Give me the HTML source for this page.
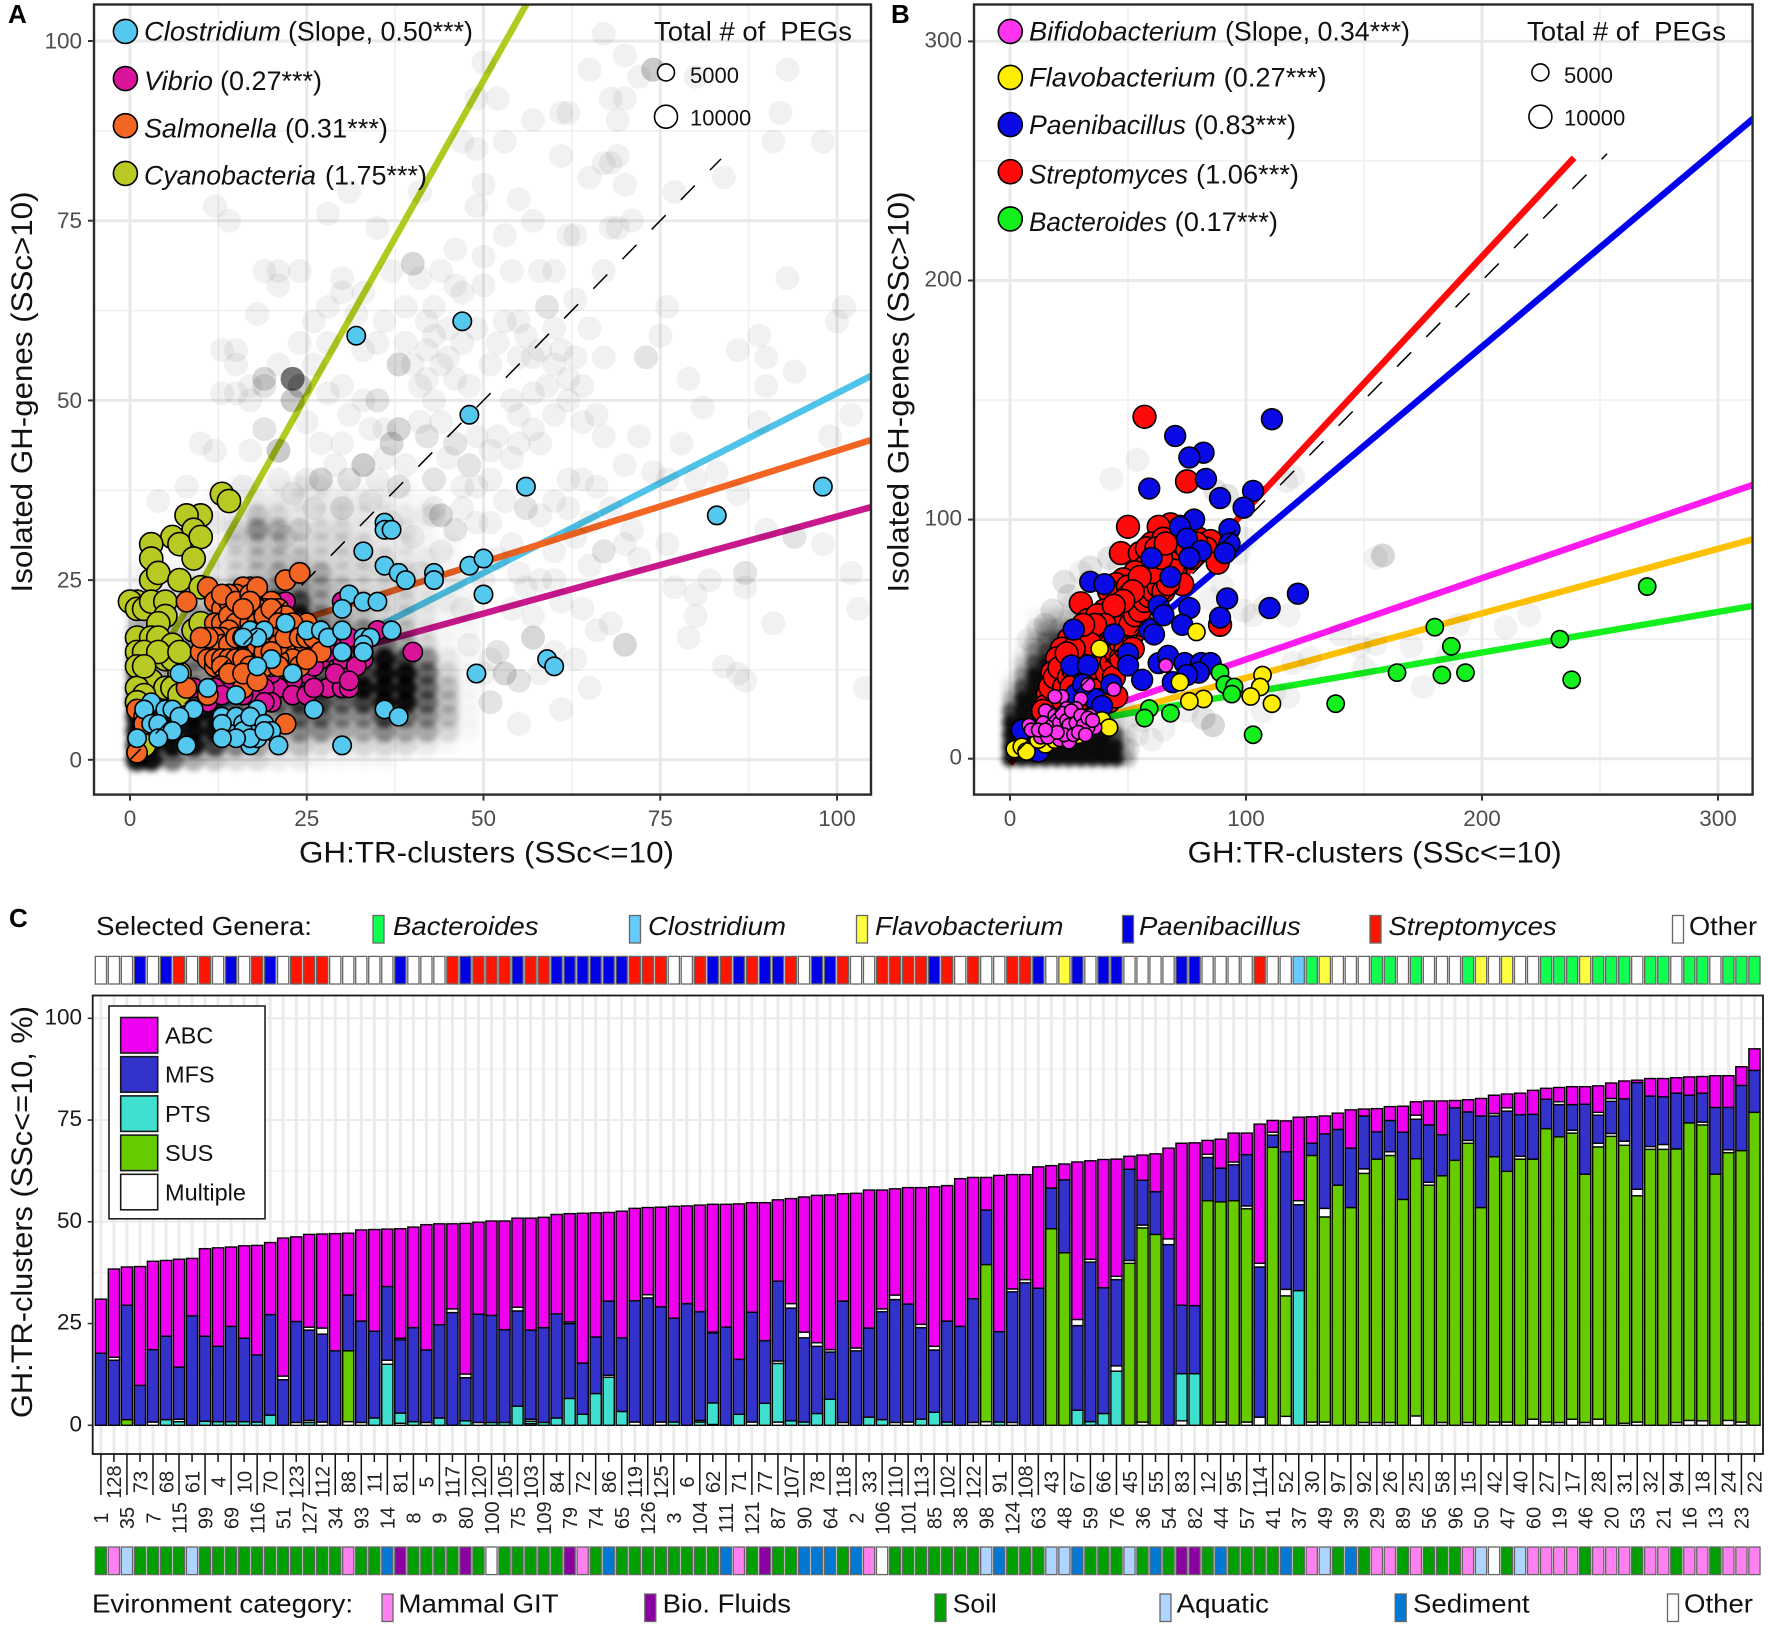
<!DOCTYPE html>
<html lang="en">
<head>
<meta charset="utf-8">
<title>GH transporter clusters figure</title>
<style>
html,body{margin:0;padding:0;background:#fff;}
svg{display:block;position:absolute;left:0;top:0;}
text{font-family:"Liberation Sans",sans-serif;fill:#000;}
.it{font-style:italic;}
.ttl{font-size:30px;fill:#111;}
.leg{font-size:27px;fill:#111;}
.pan{font-size:26px;font-weight:bold;}
.hdr{font-size:26px;fill:#111;}
.sz{font-size:22px;fill:#111;}
</style>
</head>
<body>
<svg id="fig" xmlns="http://www.w3.org/2000/svg" width="1772" height="1630" viewBox="0 0 1772 1630">
  <defs>
    <clipPath id="clipA"><rect x="94" y="4.5" width="777" height="790"/></clipPath>
    <clipPath id="clipB"><rect x="974" y="4.5" width="778.6" height="790"/></clipPath>
    <filter id="soften" x="-5%" y="-5%" width="110%" height="110%"><feGaussianBlur stdDeviation="3"/></filter>
  </defs>
  <g id="panelA"></g>
  <g id="panelB"></g>
  <g id="panelC"></g>

  <text class="pan" x="8" y="23">A</text>
  <text class="pan" x="891" y="23">B</text>
  <text class="pan" x="9" y="927">C</text>

  <text class="ttl" transform="translate(32,392) rotate(-90)" text-anchor="middle" textLength="401" lengthAdjust="spacingAndGlyphs">Isolated GH-genes (SSc&gt;10)</text>
  <text class="ttl" x="299" y="862.5" textLength="375" lengthAdjust="spacingAndGlyphs">GH:TR-clusters (SSc&lt;=10)</text>
  <text class="ttl" transform="translate(908.4,392) rotate(-90)" text-anchor="middle" textLength="401" lengthAdjust="spacingAndGlyphs">Isolated GH-genes (SSc&gt;10)</text>
  <text class="ttl" x="1187.7" y="862.5" textLength="374" lengthAdjust="spacingAndGlyphs">GH:TR-clusters (SSc&lt;=10)</text>
  <text class="ttl" transform="translate(32,1212) rotate(-90)" text-anchor="middle" textLength="412" lengthAdjust="spacingAndGlyphs">GH:TR-clusters (SSc&lt;=10, %)</text>

  <!-- legend A -->
  <g stroke="#000" stroke-width="1.6">
    <circle cx="125.4" cy="31.4" r="12" fill="#55c8ef"/>
    <circle cx="125.4" cy="78.6" r="12" fill="#d9149a"/>
    <circle cx="125.4" cy="125.7" r="12" fill="#f26522"/>
    <circle cx="125.4" cy="173.4" r="12" fill="#b8c924"/>
  </g>
  <text class="leg it" x="144" y="40.5" textLength="137" lengthAdjust="spacingAndGlyphs">Clostridium</text>
  <text class="leg" x="288" y="40.5" textLength="185" lengthAdjust="spacingAndGlyphs">(Slope, 0.50***)</text>
  <text class="leg it" x="144" y="90" textLength="69" lengthAdjust="spacingAndGlyphs">Vibrio</text>
  <text class="leg" x="220" y="90" textLength="102" lengthAdjust="spacingAndGlyphs">(0.27***)</text>
  <text class="leg it" x="144" y="137.5" textLength="133" lengthAdjust="spacingAndGlyphs">Salmonella</text>
  <text class="leg" x="285" y="137.5" textLength="103" lengthAdjust="spacingAndGlyphs">(0.31***)</text>
  <text class="leg it" x="144" y="184.5" textLength="172" lengthAdjust="spacingAndGlyphs">Cyanobacteria</text>
  <text class="leg" x="325" y="184.5" textLength="102" lengthAdjust="spacingAndGlyphs">(1.75***)</text>

  <text class="leg" x="654" y="40.5" textLength="198" lengthAdjust="spacingAndGlyphs" xml:space="preserve">Total # of  PEGs</text>
  <circle cx="666" cy="72.4" r="8.5" fill="#fff" stroke="#000" stroke-width="1.6"/>
  <circle cx="666" cy="116.7" r="11.5" fill="#fff" stroke="#000" stroke-width="1.6"/>
  <text class="sz" x="690" y="83">5000</text>
  <text class="sz" x="690" y="125.7">10000</text>

  <!-- legend B -->
  <g stroke="#000" stroke-width="1.6">
    <circle cx="1010.3" cy="31.4" r="12" fill="#ff33f0"/>
    <circle cx="1010.3" cy="77.4" r="12" fill="#ffee00"/>
    <circle cx="1010.3" cy="124.6" r="12" fill="#0a0ae6"/>
    <circle cx="1010.3" cy="171.7" r="12" fill="#ff0a0a"/>
    <circle cx="1010.3" cy="218.9" r="12" fill="#14f01e"/>
  </g>
  <text class="leg it" x="1029" y="40.5" textLength="188" lengthAdjust="spacingAndGlyphs">Bifidobacterium</text>
  <text class="leg" x="1225" y="40.5" textLength="185" lengthAdjust="spacingAndGlyphs">(Slope, 0.34***)</text>
  <text class="leg it" x="1029" y="86.5" textLength="186.6" lengthAdjust="spacingAndGlyphs">Flavobacterium</text>
  <text class="leg" x="1223.6" y="86.5" textLength="103" lengthAdjust="spacingAndGlyphs">(0.27***)</text>
  <text class="leg it" x="1029" y="134" textLength="157" lengthAdjust="spacingAndGlyphs">Paenibacillus</text>
  <text class="leg" x="1194" y="134" textLength="102" lengthAdjust="spacingAndGlyphs">(0.83***)</text>
  <text class="leg it" x="1029" y="183.5" textLength="159" lengthAdjust="spacingAndGlyphs">Streptomyces</text>
  <text class="leg" x="1196" y="183.5" textLength="103" lengthAdjust="spacingAndGlyphs">(1.06***)</text>
  <text class="leg it" x="1029" y="231" textLength="138" lengthAdjust="spacingAndGlyphs">Bacteroides</text>
  <text class="leg" x="1174.6" y="231" textLength="103.4" lengthAdjust="spacingAndGlyphs">(0.17***)</text>

  <text class="leg" x="1527" y="40.5" textLength="199" lengthAdjust="spacingAndGlyphs" xml:space="preserve">Total # of  PEGs</text>
  <circle cx="1540.4" cy="72.4" r="8.5" fill="#fff" stroke="#000" stroke-width="1.6"/>
  <circle cx="1540.4" cy="116.7" r="11.5" fill="#fff" stroke="#000" stroke-width="1.6"/>
  <text class="sz" x="1564" y="83">5000</text>
  <text class="sz" x="1564" y="125.7">10000</text>

  <!-- panel C header legend -->
  <text class="hdr" x="96" y="935" textLength="216" lengthAdjust="spacingAndGlyphs">Selected Genera:</text>
  <g stroke="#666" stroke-width="1.3">
    <rect x="373" y="915.5" width="11" height="27.5" fill="#10ff50"/>
    <rect x="629.5" y="915.5" width="11" height="27.5" fill="#66ccff"/>
    <rect x="856.5" y="915.5" width="11" height="27.5" fill="#ffff40"/>
    <rect x="1122.5" y="915.5" width="11" height="27.5" fill="#0000e6"/>
    <rect x="1370" y="915.5" width="11" height="27.5" fill="#ff1400"/>
    <rect x="1672.5" y="915.5" width="11" height="27.5" fill="#fff"/>
  </g>
  <text class="hdr it" x="393" y="935" textLength="145.5" lengthAdjust="spacingAndGlyphs">Bacteroides</text>
  <text class="hdr it" x="648" y="935" textLength="138" lengthAdjust="spacingAndGlyphs">Clostridium</text>
  <text class="hdr it" x="875" y="935" textLength="188.4" lengthAdjust="spacingAndGlyphs">Flavobacterium</text>
  <text class="hdr it" x="1139" y="935" textLength="161.8" lengthAdjust="spacingAndGlyphs">Paenibacillus</text>
  <text class="hdr it" x="1388.4" y="935" textLength="168.3" lengthAdjust="spacingAndGlyphs">Streptomyces</text>
  <text class="hdr" x="1689" y="935" textLength="68" lengthAdjust="spacingAndGlyphs">Other</text>

  <!-- panel C footer legend -->
  <text class="hdr" x="92" y="1612.4" textLength="261" lengthAdjust="spacingAndGlyphs">Evironment category:</text>
  <g stroke="#666" stroke-width="1.3">
    <rect x="382" y="1594" width="11" height="27.5" fill="#ff80f0"/>
    <rect x="644.8" y="1594" width="11" height="27.5" fill="#8a00a0"/>
    <rect x="935" y="1594" width="11" height="27.5" fill="#00a000"/>
    <rect x="1160" y="1594" width="11" height="27.5" fill="#aed4ff"/>
    <rect x="1395.2" y="1594" width="11" height="27.5" fill="#0078d4"/>
    <rect x="1667.5" y="1594" width="11" height="27.5" fill="#fff"/>
  </g>
  <text class="hdr" x="398.4" y="1612.4" textLength="160.3" lengthAdjust="spacingAndGlyphs">Mammal GIT</text>
  <text class="hdr" x="662.7" y="1612.4" textLength="128.3" lengthAdjust="spacingAndGlyphs">Bio. Fluids</text>
  <text class="hdr" x="952.8" y="1612.4" textLength="44" lengthAdjust="spacingAndGlyphs">Soil</text>
  <text class="hdr" x="1176.7" y="1612.4" textLength="92.3" lengthAdjust="spacingAndGlyphs">Aquatic</text>
  <text class="hdr" x="1413" y="1612.4" textLength="116.6" lengthAdjust="spacingAndGlyphs">Sediment</text>
  <text class="hdr" x="1684" y="1612.4" textLength="69" lengthAdjust="spacingAndGlyphs">Other</text>
</svg>

<script>
/* ---------- Panel A data ---------- */
const ticksA = [0, 25, 50, 75, 100];
const minorA = [12.5, 37.5, 62.5, 87.5];
const slopesA = {clostridium: 0.50, vibrio: 0.27, salmonella: 0.31, cyanobacteria: 1.75};
const interceptsA = {clostridium: 1.0, vibrio: 6.85, salmonella: 12, cyanobacteria: 7};
const clostridiumPts = [[32,59],[47,61],[48,48],[56,38],[98,38],[83,34],[36,33],[36,32],[37,32],[33,29],[36,27],[38,26],[39,25],[43,26],[43,25],[48,27],[50,28],[50,23],[31,23],[30,21],[33,22],[35,22],[22,19],[25,18],[27,18],[28,17],[30,18],[30,15],[33,17],[34,17],[33,16],[33,15],[37,18],[59,14],[60,13],[49,12],[7,12],[23,12],[20,14],[18,13],[17,18],[19,18],[18,17],[16,17],[11,10],[15,9],[26,7],[36,7],[38,6],[30,2],[9,7],[3,8],[2,7],[5,7],[6,7],[7,6],[3,5],[4,5],[6,4],[4,3],[8,2],[1,3],[13,6],[14,5],[15,6],[13,5],[16,5],[17,4],[16,4],[18,6],[18,7],[17,6],[19,5],[20,4],[21,2],[17,2],[18,3],[17,3],[15,3],[13,3],[19,4]];
const vibrioPts = [[40,15],[35,18],[33,14],[33,15],[33,16],[30,13],[30,14],[30,15],[30,16],[29,17],[31,17],[30,22],[22,22],[28,10],[30,10],[31,10],[27,14],[25,12],[23,11],[21,10],[20,12],[19,10],[18,11],[17,12],[16,13],[15,11],[14,10],[13,12],[12,10],[11,8],[9,10],[8,10],[20,8],[23,9],[25,9],[26,10],[24,13],[22,14],[20,15],[28,15],[27,17],[29,12],[32,13],[18,14],[17,9],[19,8],[24,15],[26,13],[31,11],[13,9],[16,9]];
const salmonellaPts = [[22,25],[24,26],[11,24],[8,22],[17,24],[16,24],[15,23],[14,23],[12,22],[13,21],[14,22],[16,22],[18,23],[19,22],[20,22],[21,21],[20,20],[19,21],[18,21],[17,21],[15,21],[12,19],[13,19],[14,20],[16,20],[15,19],[17,19],[18,19],[19,19],[22,20],[24,19],[25,19],[14,18],[13,17],[12,17],[11,16],[10,15],[23,17],[25,16],[26,16],[24,15],[22,15],[23,14],[21,14],[20,13],[18,14],[17,15],[16,15],[15,15],[14,15],[13,15],[12,15],[11,14],[12,13],[14,13],[15,13],[16,13],[18,12],[19,13],[17,12],[15,12],[16,10],[8,10],[11,9],[22,5],[1,7],[2,6],[2,5],[1,1],[13,23],[15,22],[17,23],[18,24],[19,20],[20,21],[21,19],[22,18],[23,19],[13,16],[14,16],[15,17],[16,17],[17,17],[18,16],[19,16],[20,17],[21,16],[22,17],[12,14],[13,14],[14,14],[15,14],[16,14],[17,13],[13,13],[14,12],[19,15],[20,15],[21,13],[24,17],[25,17],[26,17],[27,15],[24,13],[25,14],[16,12],[18,11],[11,17],[10,17],[17,22],[16,21]];
const cyanobacteriaPts = [[13,37],[14,36],[10,34],[8,34],[9,32],[6,31],[7,30],[3,30],[10,31],[9,28],[3,28],[3,25],[4,26],[7,25],[10,24],[1,22],[0,22],[1,21],[2,21],[3,22],[5,22],[5,20],[4,19],[9,18],[10,19],[1,17],[3,17],[4,17],[6,16],[1,15],[2,15],[5,14],[1,13],[3,11],[7,12],[6,14],[1,10],[5,10],[6,10],[7,9],[2,9],[1,8],[2,5],[2,2],[4,15],[7,15],[2,13]];
const greyPtsA = [[67,101],[70,98],[74,96,4],[72,95],[65,96],[80,95],[93,96],[50,97],[68,92],[70,92],[52,92],[49,92],[61,90],[62,90],[69,89],[92,90],[98,86],[91,86],[57,89],[53,86],[47,86],[49,85],[61,84],[67,83],[68,83],[69,84],[70,80],[65,81],[84,81],[50,80],[55,78],[49,77],[41,79],[31,79],[28,76],[12,77],[14,75],[35,74],[68,74],[57,75],[71,75],[77,79],[69,74],[53,73],[63,73],[62,73],[40,69,3],[50,70],[46,71],[44,68],[41,67],[46,66],[47,65],[50,66],[54,68],[58,68],[60,68],[19,68],[21,68],[21,66],[24,68],[30,67],[30,65],[39,63],[93,67],[76,63],[59,63,2],[63,64],[67,68],[18,62],[42,61],[43,59],[53,61],[56,59],[65,60],[75,59],[101,63],[100,61],[89,59],[90,56],[26,61],[28,58],[33,57],[35,58],[45,56],[38,55,3],[40,55],[73,56,2],[63,56],[67,56],[57,56],[60,55],[86,57],[94,54],[90,52],[79,53],[81,49],[55,56],[51,55],[13,57],[15,57],[15,55],[19,53,3],[21,55],[23,53,14],[24,52,4],[23,50,4],[19,52,2],[17,52],[13,51],[15,51],[17,50],[42,53],[35,50,2],[30,52],[28,51],[33,50],[43,50],[41,52],[62,53],[66,48],[102,48],[99,45],[72,45],[64,47],[60,48],[57,46],[55,48],[70,41],[74,40],[78,44],[67,45],[89,47],[76,39],[80,39],[83,40],[86,37],[77,24],[76,30],[80,23],[80,20],[82,25],[87,26,2],[87,24],[91,19],[102,26],[103,21],[98,30],[94,31,2],[90,32],[70,16,3],[68,19],[67,29,2],[65,27],[71,32],[62,35],[60,36],[58,34],[56,35,2],[66,38],[64,39],[62,39],[84,13],[86,12],[87,11],[104,10],[79,17],[65,10],[61,7],[55,5],[50,12],[53,12,3],[55,11,2],[52,15,2],[51,14],[51,8,2],[57,17,3],[56,24],[58,25],[60,25],[50,25],[46,25],[44,34,3],[43,35],[46,44,2],[48,41,2],[42,45,2],[38,46,3],[36,46],[33,41,4],[31,39,2],[30,44],[27,39,3],[25,39],[21,43,4],[19,46,2],[17,43],[10,44],[8,38],[4,36],[12,43],[43,39,2],[47,38],[51,39],[54,42],[58,44],[40,31],[43,34],[46,32,2],[51,33],[37,44,3],[38,38,2],[34,36],[30,35,2],[24,32],[22,31],[25,47],[27,44],[31,48],[34,46],[36,42],[39,41],[41,47],[44,47],[45,42],[49,45],[52,45],[54,50],[57,51],[59,52],[48,52],[46,53],[44,55],[42,57],[47,58],[49,60],[52,58],[55,61],[58,57],[60,60],[61,57],[64,52],[62,50],[55,44],[51,43],[49,38],[53,36],[47,35],[49,33],[52,28],[54,30],[55,26],[60,29],[63,31],[65,33],[68,35],[70,30],[72,28],[61,22],[64,21],[66,18],[57,20],[54,21],[60,15],[63,14],[58,12],[48,16],[47,21],[44,29],[41,26],[37,33],[35,39],[29,41],[26,35],[23,37],[21,39],[16,38],[12,33],[15,31],[26,55],[24,58],[28,63],[32,62],[36,61],[39,58],[33,65],[37,68],[43,63],[45,60]];
const densityColsA = [1,3,6,9,12,15,18,21,24,27,30,33,36,39,42,45,48];
const densityRowsA = [0,2,4,6,8,10,12,14,16,18,20,22,24,26,28,30,32,34,36,38];
const densityA = [
 [9,9,7,5,4,3,3,2,2,1,1,1,1,0,0,0,0],
 [9,9,9,9,8,6,5,4,4,3,3,3,3,3,2,1,0],
 [9,9,9,9,9,7,6,5,6,6,5,5,6,5,5,3,1],
 [9,9,8,9,9,7,6,6,7,7,6,6,8,7,6,4,1],
 [9,8,7,8,8,7,7,7,8,8,7,8,9,9,7,4,1],
 [8,6,6,7,7,7,7,7,8,8,8,9,9,9,7,4,1],
 [7,5,5,6,6,6,7,7,7,7,7,8,9,9,7,3,1],
 [6,5,5,6,6,6,7,7,8,7,7,8,9,8,6,2,1],
 [5,4,5,6,6,6,7,7,8,7,7,7,7,5,3,1,0],
 [4,3,4,6,6,6,7,8,8,7,6,6,5,4,2,1,1],
 [3,2,3,5,6,6,7,9,9,6,5,4,3,3,2,1,1],
 [2,2,3,4,5,5,6,9,8,5,4,4,3,3,2,2,1],
 [1,1,2,3,3,4,5,6,6,5,4,3,3,3,2,1,1],
 [1,1,1,2,2,3,4,5,5,5,3,3,3,3,2,1,0],
 [0,0,1,1,2,3,4,4,4,3,3,3,3,2,2,1,0],
 [0,0,0,1,1,3,4,4,3,3,3,3,2,2,1,1,0],
 [0,0,0,1,1,3,6,5,3,3,3,2,2,2,1,0,0],
 [0,0,0,0,1,2,4,3,2,2,2,2,2,2,2,0,0],
 [0,0,0,0,1,1,2,2,2,2,2,2,2,1,1,0,0],
 [0,0,0,0,0,1,1,1,2,2,1,1,1,1,0,0,0]
];

/* ---------- Panel B data ---------- */
const ticksB = [0, 100, 200, 300];
const minorB = [50, 150, 250];
const slopesB = {bifidobacterium: 0.34, flavobacterium: 0.27, paenibacillus: 0.83, streptomyces: 1.06, bacteroides: 0.17};
const interceptsB = {bifidobacterium: 7.5, flavobacterium: 6.8, paenibacillus: 6.3, streptomyces: -2, bacteroides: 10.4};
const streptomycesPts = [[57,143],[75,116],[50,97],[47,86],[70,96],[72,97],[68,98],[63,97],[60,90],[55,86],[58,88],[65,92],[70,90],[75,95],[80,92],[85,91],[83,88],[88,82],[78,86],[72,84],[67,85],[62,82],[57,80],[53,78],[48,75],[45,73],[42,70],[50,72],[55,70],[60,72],[65,75],[70,78],[73,73],[50,68],[58,65],[46,62],[40,62],[30,65],[33,58],[37,60],[42,56],[47,55],[52,52],[56,56],[30,52],[25,50],[28,48],[35,52],[38,48],[42,47],[22,46],[20,42],[26,42],[32,44],[36,42],[24,38],[18,36],[22,33],[28,32],[33,36],[38,35],[40,30],[20,28],[16,27],[18,24],[24,26],[30,25],[36,25],[42,24],[45,26],[15,22],[22,22],[89,56],[14,20],[17,30],[19,34],[21,38],[23,30],[25,34],[27,37],[29,40],[31,36],[33,30],[35,33],[37,38],[39,42],[41,36],[43,40],[45,44],[47,48],[49,52],[51,56],[53,60],[55,62],[57,66],[59,68],[61,70],[63,72],[65,70],[67,73],[69,80],[71,88],[73,90],[75,88],[77,84],[79,90],[60,78],[62,88],[64,84],[66,90],[55,76],[52,70],[48,66],[44,64],[40,56],[36,56],[34,48],[31,56],[27,46],[24,44],[44,34],[47,42],[49,46],[52,46],[26,30]];
const paenibacillusPts = [[111,142],[70,135],[82,128],[76,126],[83,117],[59,113],[89,109],[103,112],[99,105],[93,96],[78,100],[72,97],[75,92],[93,90],[91,86],[81,87],[76,84],[60,84],[68,76],[34,74],[40,73],[63,64],[65,60],[76,63],[73,56],[92,67],[89,59],[110,63],[122,69],[59,54],[61,52],[27,54],[44,52],[50,44],[50,39],[29,38],[26,39],[33,39],[63,40],[67,43],[74,40],[81,40],[85,40],[80,36],[75,35],[69,32],[56,33],[43,31],[36,25],[28,27],[39,22],[5,12],[12,3],[31,31]];
const bacteroidesPts = [[270,72],[180,55],[187,47],[233,50],[193,36],[183,35],[164,36],[238,33],[138,23],[103,10],[89,36],[91,31],[95,30],[94,27],[68,19],[59,21],[57,17]];
const flavobacteriumPts = [[38,46],[79,53],[72,32],[107,35],[106,30],[102,26],[111,23],[82,25],[76,24],[39,16],[42,13],[2,4],[5,5],[7,3],[15,6],[29,10],[12,8],[19,8]];
const bifidobacteriumPts = [[66,39],[33,31],[44,29],[22,26],[30,25],[19,26],[8,14],[9,12],[13,9],[17,13],[21,8],[17,19],[23,17],[24,21],[27,18],[31,17],[34,18],[36,13],[30,13],[26,12],[25,7],[15,20],[28,21],[20,17],[29,15],[33,13],[22,12],[14,15],[16,9],[18,14],[19,18],[21,15],[22,19],[24,16],[25,14],[26,20],[28,15],[30,18],[31,14],[33,17],[35,16],[23,10],[20,11],[27,10],[29,11],[32,10],[12,12],[15,12]];
const greyPtsB = [[54,125],[43,117],[120,118],[87,112,2],[92,110,2],[117,116],[158,85,3],[155,84],[65,60],[27,65],[25,68,2],[23,74,2],[30,78],[34,80,2],[33,74],[42,84,2],[46,80],[15,56,2],[18,62,2],[12,54],[8,50],[10,46],[118,60],[108,64],[103,60],[99,62],[127,42],[140,52],[148,47],[155,48],[170,47],[185,42],[175,30],[190,56],[150,38],[120,40],[112,28],[118,26],[107,20],[86,14,3],[82,17,2],[75,20],[65,12],[60,8],[54,10],[50,4],[56,16],[48,22],[52,18],[210,55],[220,60],[100,92],[97,86],[90,72],[85,67]];
const densityColsB = [0,5,10,15,20,25,30,35,40,45,50];
const densityRowsB = [0,5,10,15,20,25,30,35,40,45,50,55,60];
const densityB = [
 [9,9,9,9,9,9,9,9,9,9,5],
 [9,9,9,9,9,9,9,9,9,9,4],
 [9,9,9,9,9,9,9,9,9,8,3],
 [9,9,9,9,9,9,9,9,7,4,1],
 [8,9,9,9,9,9,7,6,5,2,1],
 [5,9,9,9,9,9,7,6,4,2,0],
 [3,8,9,9,9,9,7,5,3,1,0],
 [1,6,9,9,9,9,6,4,2,1,0],
 [0,4,8,9,9,8,6,4,2,1,0],
 [0,2,6,8,9,8,6,4,2,0,0],
 [0,1,4,7,8,8,6,4,2,0,0],
 [0,0,2,5,6,6,5,3,1,0,0],
 [0,0,1,2,3,4,4,3,1,0,0]
];

/* ---------- Panel C data ---------- */
const ticksC = [0, 25, 50, 75, 100];
const minorC = [12.5, 37.5, 62.5, 87.5];
const genomeLabels = [1,128,35,73,7,68,115,61,99,4,
69,10,116,70,51,123,127,112,34,88,
93,11,14,81,8,5,9,117,80,120,
100,105,75,103,109,84,79,72,74,86,
65,119,126,125,3,6,104,62,111,71,
121,77,87,107,90,78,64,118,2,33,
106,110,101,113,85,102,38,122,98,91,
124,108,63,43,48,67,59,66,76,45,
36,55,54,83,82,12,44,95,57,114,
41,52,37,30,49,97,39,92,29,26,
89,25,56,58,96,15,50,42,47,40,
60,27,19,17,46,28,20,31,53,32,
21,94,16,18,13,24,23,22];
const totalTop = [31,38.4,38.9,39,40.3,40.5,40.8,41,43.4,43.6,
43.8,44.1,44.2,44.9,46,46.3,46.9,47,47.1,47.2,
48,48.1,48.2,48.3,48.7,49.3,49.5,49.5,49.6,49.9,
50.2,50.2,50.9,50.9,51.1,51.8,52,52.1,52.2,52.3,
52.6,53.3,53.5,53.6,53.8,53.9,54.1,54.3,54.3,54.4,
54.7,54.7,55.4,55.7,56.1,56.5,56.6,56.9,57,57.8,
57.8,58.1,58.4,58.4,58.6,58.9,60.6,60.9,60.9,61.4,
61.6,61.6,63.5,63.8,64.2,64.7,65,65.3,65.4,66.1,
66.4,66.7,68.1,69.3,69.4,70,70.3,71.8,71.8,74,
74.9,74.8,75.7,75.8,76,76.7,77.5,77.7,77.8,78.3,
78.4,79.5,79.7,79.7,79.8,80,80.3,81.1,81.4,81.6,
82.3,82.8,83,83.2,83.2,83.4,84.1,84.6,84.8,85.2,
85.2,85.4,85.6,85.7,85.9,85.9,88.1,92.5];
const abcBase = [17.7,16.7,29.5,9.8,18.6,21.9,14.3,26.9,21.9,19.4,
24.3,21.4,17.3,27.2,12.1,25.5,24.1,23.9,18.3,32,
25.6,23.1,34.1,21.4,24,18.5,24.7,28.6,12.6,27.3,
27,23.5,29,23.4,24,27.4,25.4,15.3,21.7,30.5,
21.5,30.6,32.1,29.1,26.3,29.9,27.9,22.9,24.1,16.2,
27.8,20.8,35.4,29.9,22.9,20.3,18.6,30.5,19,23.9,
28.6,32,29.8,24.8,19.4,25.6,24.3,31.1,52.9,23,
33.5,35.8,33.7,58.3,60.3,26,40.8,33.8,36.6,62.9,
60.2,57.4,45.8,29.5,29.4,66.6,63.2,64.7,66.5,39.8,
72,67.2,55.2,69.3,71.6,72.7,68.1,76,72.1,74.9,
72,76.2,73.8,71.4,78,77,76,76.6,78,76.3,
76.4,80.1,79.5,78.8,78.9,76.9,80.3,80.2,84.2,80.9,
80.7,81.6,81.1,81.6,78.1,78.1,83.5,87.2];
const mfsTop = [17.7,16,29.5,9.8,18.6,21.9,14.3,26.9,21.9,19.4,
24.3,21.4,17.3,27.2,11.2,25.5,23.4,22.4,18.3,32,
25.6,23.1,34.1,21,24,18.5,24.7,27.7,11.7,27.3,
27,23.5,28.1,23.4,24,27.4,25,15.3,21.7,30.5,
21.5,30.6,31.3,29.1,26.3,29.9,27.9,22.7,24.1,16.2,
27.8,20.8,35.4,28.8,21.5,19.4,18,30.5,18.3,23.9,
27.9,30.9,29.8,24,18.5,25.6,24.3,31.1,52.9,23,
32.8,35,33.7,58.3,60.3,24.5,40.1,33.8,35.8,62.9,
60.2,57.4,44.4,29.5,29.4,65.8,63.2,64,66.5,38.9,
71.3,67.2,54.2,69.3,71.6,72.7,68.1,76,72.1,74.9,
72,75.2,73.8,71.4,78,77,76,76,77.2,76.3,
76.4,80.1,78.8,78.8,78.9,76.2,79.6,80.2,84.2,80.9,
80.7,81.6,81.1,81.6,78.1,78.1,83.5,87.2];
const mfsBase = [0,0,1.4,0,.8,1.4,1.5,0,1,.9,
.9,.9,.8,2.5,0,.7,1.2,.8,0,18.3,
.7,1.8,16,3,.9,.7,1.8,0,1.1,.7,
.7,.7,4.7,1.5,.7,1.8,6.6,2.7,7.8,12.3,
3.4,.8,0,.8,.8,0,1.2,5.5,0,2.7,
.8,5.4,15.8,1.1,.8,2.9,6.4,.7,0,2,
1.4,.7,.8,1.5,3.2,.8,0,.7,39.5,.8,
.7,0,0,48.3,42.4,3.7,.9,2.9,14.6,40.5,
49.2,46.9,0,12.7,12.7,55.2,54.9,55.2,53.9,2,
68.3,33.4,33.1,66.3,53.3,59,53.5,63,65.4,67.2,
55.5,65.5,59.7,61.3,65.1,70,53.5,66,62.4,66.1,
65.4,72.9,70.9,72.5,61.7,69.3,71.7,69.8,58,68.5,
69,67.9,74.3,74.5,61.7,67.7,67.5,76.9];
const lowTop = [0,0,1.4,0,.8,1.4,.9,0,1,.9,
.9,.9,.8,2.5,0,.7,.7,.8,0,18.3,
.7,1.8,15,3,.9,.7,1.8,0,1.1,.7,
.7,.7,4.7,1,.7,1.8,6.6,2.7,7.8,11.8,
3.4,.8,0,.8,.8,0,.8,5.5,0,2.7,
.8,5.4,15.2,1.1,.8,2.9,6.4,.7,0,2,
1.4,.7,.8,1.5,3.2,.8,0,.7,39.5,.8,
.7,0,0,48.3,42.4,3.7,.9,2.9,13.3,39.8,
48.5,46.9,0,12.7,12.7,55.2,54.9,55.2,53.2,2,
68.3,31.8,33.1,66.3,51.2,59,53.5,61.9,65.4,66.3,
55.5,65.5,59,61.3,65.1,69.3,53.5,66,62.4,65.4,
65.4,72.9,70.9,71.8,61.7,68.4,71,68.8,56.4,67.8,
67.8,67.9,74.3,73.8,61.7,67,67.5,76.9];
const baseTop = [0,0,0,0,.8,0,0,0,0,0,
0,0,0,0,0,.7,0,.8,0,.9,
.7,0,0,.5,0,.7,0,0,0,.7,
0,0,0,.4,0,0,0,0,0,0,
0,.8,0,.8,0,0,0,.2,0,0,
.8,0,.8,0,0,0,0,.7,0,0,
0,.7,.8,0,0,0,0,.7,.9,0,
.7,0,0,0,0,0,0,0,0,0,
.8,0,0,1.1,0,0,.8,0,.8,2,
0,2.2,0,.8,.8,0,0,.7,.7,.7,
0,2.3,0,.7,0,.7,0,.8,.8,0,
1.5,.8,.7,1.5,.7,1.5,0,.5,.8,0,
0,.7,1.2,1.1,0,1.2,.8,0];
const lowKind = ("NNSNNPPNPP"+"PPPPNNPNNS"+"NPPPPNPNPN"+"PPPPPPPPPP"+"PNNNPNPPNP"+"NPPPPPPNNP"+"PNNPPPNNSP"+"NNNSSPPPPS"+"SSNPPSSSSN"+"SSPSSSSSSS"+"SSSSSSSSSS"+"SSSSSSSSSS"+"SSSSSSSS").split("");
const generaStrip = ("WWWBWBRWRW"+"BWRBWRRRWW"+"WWWBWWWRBR"+"RRBRRBBBBB"+"BRRRWWRBRB"+"RBBRWBBRWW"+"RRRRBRWRWW"+"RRBWYBWBBW"+"WWWBBWWWWR"+"WWCGYWWWGG"+"WGWWWGYWYW"+"WGGGYGGGWG"+"GWGGWGGG").split("");
const environmentStrip = ("GMAGGGGAGG"+"GGGGGGGGGM"+"GGSFGGGGFG"+"OGGGGGFMGS"+"GGGGGGGGSM"+"GFGGSSSGSM"+"OGGGGGGGAS"+"GGGAASGGGA"+"GSGFFGSGGG"+"GSGMAGSGMM"+"GMGGGMAOGA"+"MMMMGMMMGM"+"MGMMGMMM").split("");

/* ---------- Scales ---------- */
const xA = v => 130 + 7.07 * v;
const yA = v => 759.8 - 7.188 * v;
const xB = v => 1010 + 2.36 * v;
const yB = v => 758.7 - 2.391 * v;
const yC = v => 1425.3 - 4.07 * v;
const xC = i => 100.9 + 13.02 * i;

const NS = "http://www.w3.org/2000/svg";
const panelA = document.getElementById("panelA");
const panelB = document.getElementById("panelB");
const panelC = document.getElementById("panelC");

function group(parent, name, clip) {
  const el = document.createElementNS(NS, "g");
  
  
  if (clip) el.setAttribute("clip-path", "url(#" + clip + ")");
  parent.appendChild(el);
  return el;
}
function line(parent, name, x1, y1, x2, y2, color, width, dash, offset) {
  const el = document.createElementNS(NS, "line");
  
  
  el.setAttribute("x1", x1); el.setAttribute("y1", y1);
  el.setAttribute("x2", x2); el.setAttribute("y2", y2);
  el.setAttribute("stroke", color); el.setAttribute("stroke-width", width);
  if (dash) { el.setAttribute("stroke-dasharray", dash); el.setAttribute("stroke-dashoffset", offset); }
  parent.appendChild(el);
  return el;
}
function circle(parent, name, cx, cy, r, fill, opacity, stroke) {
  const el = document.createElementNS(NS, "circle");
  
  
  el.setAttribute("cx", cx); el.setAttribute("cy", cy); el.setAttribute("r", r);
  el.setAttribute("fill", fill);
  if (opacity < 1) el.setAttribute("fill-opacity", opacity.toFixed(3));
  if (stroke) { el.setAttribute("stroke", "#000"); el.setAttribute("stroke-width", stroke); }
  parent.appendChild(el);
  return el;
}
function rect(parent, name, x, y, w, h, fill, stroke, sw) {
  const el = document.createElementNS(NS, "rect");
  
  
  el.setAttribute("x", x); el.setAttribute("y", y);
  el.setAttribute("width", w); el.setAttribute("height", h);
  el.setAttribute("fill", fill);
  if (stroke) { el.setAttribute("stroke", stroke); el.setAttribute("stroke-width", sw); }
  parent.appendChild(el);
  return el;
}
function label(parent, name, x, y, str, anchor, size, color, rotate) {
  const el = document.createElementNS(NS, "text");
  
  
  el.setAttribute("text-anchor", anchor);
  el.setAttribute("font-size", size);
  el.style.fill = color;
  if (rotate) el.setAttribute("transform", "translate(" + x + "," + y + ") rotate(-90)");
  else { el.setAttribute("x", x); el.setAttribute("y", y); }
  el.textContent = str;
  parent.appendChild(el);
  return el;
}

/* ---------- Scatter panel builder ---------- */
function scatter(cfg) {
  const p = cfg.parent;
  rect(p, "plot-background-" + cfg.id, cfg.L, cfg.T, cfg.R - cfg.L, cfg.B - cfg.T, "#fff");
  const grid = group(p, "grid-" + cfg.id, cfg.clip);
  cfg.minor.forEach(v => {
    line(grid, "grid-minor-x-" + v, cfg.x(v), cfg.T, cfg.x(v), cfg.B, "#f0f0f0", 1.6);
    line(grid, "grid-minor-y-" + v, cfg.L, cfg.y(v), cfg.R, cfg.y(v), "#f0f0f0", 1.6);
  });
  cfg.ticks.forEach(v => {
    line(grid, "grid-major-x-" + v, cfg.x(v), cfg.T, cfg.x(v), cfg.B, "#e9e9e9", 3);
    line(grid, "grid-major-y-" + v, cfg.L, cfg.y(v), cfg.R, cfg.y(v), "#e9e9e9", 3);
  });
  const fits = group(p, "regression-lines-" + cfg.id, cfg.clip);
  cfg.fits.forEach(f => {
    const x1 = f.from, x2 = f.to;
    line(fits, "regression-line-" + f.name, cfg.x(x1), cfg.y(f.slope * x1 + f.b), cfg.x(x2), cfg.y(f.slope * x2 + f.b), f.color, 6.5);
  });
  const bg = group(p, "background-genomes-" + cfg.id, cfg.clip);
  const dens = group(bg, "genome-density-" + cfg.id);
  dens.setAttribute("filter", "url(#soften)");
  cfg.densityRows.forEach((yv, r) => {
    cfg.densityCols.forEach((xv, c) => {
      const d = cfg.density[r][c];
      if (!d) return;
      const D = Math.pow(d / 9, 1.5) * 0.98;
      const a = 1 - Math.pow(1 - D, 1 / cfg.cover);
      circle(dens, "genome-density-cell", cfg.x(xv), cfg.y(yv), cfg.densityR, "#000", a);
    });
  });
  cfg.grey.forEach(g => {
    const n = g[2] || 1;
    circle(bg, "background-genome-point", cfg.x(g[0]), cfg.y(g[1]), 12, "#000", 1 - Math.pow(1 - 0.055, n));
  });
  cfg.series.forEach(s => {
    const sg = group(p, "points-" + s.name, cfg.clip);
    s.pts.forEach(pt => {
      circle(sg, "point-" + s.name, cfg.x(pt[0]), cfg.y(pt[1]), s.r, s.color, 1, 1.6);
    });
  });
  const dashGroup = group(p, "identity-line-" + cfg.id, cfg.clip);
  line(dashGroup, "identity-dashed-line", cfg.x(0), cfg.y(0), cfg.x(cfg.dashEnd), cfg.y(cfg.dashEnd), "#000", 1.5, "20 21.6", cfg.dashOffset);
  rect(p, "plot-frame-" + cfg.id, cfg.L, cfg.T, cfg.R - cfg.L, cfg.B - cfg.T, "none", "#2a2a2a", 2.4);
  const axes = group(p, "axes-" + cfg.id);
  cfg.ticks.forEach(v => {
    line(axes, "x-tick-" + v, cfg.x(v), cfg.B, cfg.x(v), cfg.B + 6, "#333", 2);
    line(axes, "y-tick-" + v, cfg.L - 6, cfg.y(v), cfg.L, cfg.y(v), "#333", 2);
    label(axes, "x-tick-label-" + v, cfg.x(v), 826, String(v), "middle", 22.5, "#4d4d4d");
    label(axes, "y-tick-label-" + v, cfg.L - 12, cfg.y(v) + cfg.tickDy, String(v), "end", 22.5, "#4d4d4d");
  });
}

scatter({
  id: "a", parent: panelA, clip: "clipA", L: 94, R: 871, T: 4.5, B: 794.6, x: xA, y: yA, tickDy: 7.5,
  ticks: ticksA, minor: minorA, dashEnd: 83.6, dashOffset: 4.9,
  density: densityA, densityCols: densityColsA, densityRows: densityRowsA, densityR: 11.5, cover: 1.36,
  grey: greyPtsA,
  fits: [
    {name: "clostridium", slope: slopesA.clostridium, b: interceptsA.clostridium, color: "#4fc3e8", from: 0, to: 106},
    {name: "vibrio", slope: slopesA.vibrio, b: interceptsA.vibrio, color: "#c9188c", from: 0, to: 106},
    {name: "salmonella", slope: slopesA.salmonella, b: interceptsA.salmonella, color: "#f26522", from: 0, to: 106},
    {name: "cyanobacteria", slope: slopesA.cyanobacteria, b: interceptsA.cyanobacteria, color: "#b2c91f", from: 0, to: 60}
  ],
  series: [
    {name: "cyanobacteria", pts: cyanobacteriaPts, color: "#b8c924", r: 11.6},
    {name: "vibrio", pts: vibrioPts, color: "#d9149a", r: 9.6},
    {name: "salmonella", pts: salmonellaPts, color: "#f26522", r: 10.2},
    {name: "clostridium", pts: clostridiumPts, color: "#55c8ef", r: 9.2}
  ]
});

scatter({
  id: "b", parent: panelB, clip: "clipB", L: 974, R: 1752.6, T: 4.5, B: 794.6, x: xB, y: yB, tickDy: 6,
  ticks: ticksB, minor: minorB, dashEnd: 253, dashOffset: 31.4,
  density: densityB, densityCols: densityColsB, densityRows: densityRowsB, densityR: 8, cover: 1.42,
  grey: greyPtsB,
  fits: [
    {name: "bifidobacterium", slope: slopesB.bifidobacterium, b: interceptsB.bifidobacterium, color: "#ff1af0", from: 0, to: 320},
    {name: "flavobacterium", slope: slopesB.flavobacterium, b: interceptsB.flavobacterium, color: "#ffc000", from: 0, to: 320},
    {name: "paenibacillus", slope: slopesB.paenibacillus, b: interceptsB.paenibacillus, color: "#0000ee", from: 0, to: 320},
    {name: "streptomyces", slope: slopesB.streptomyces, b: interceptsB.streptomyces, color: "#ff0a0a", from: 0, to: 239},
    {name: "bacteroides", slope: slopesB.bacteroides, b: interceptsB.bacteroides, color: "#14f01e", from: 0, to: 320}
  ],
  series: [
    {name: "streptomyces", pts: streptomycesPts, color: "#ff0a0a", r: 11.4},
    {name: "paenibacillus", pts: paenibacillusPts, color: "#0a0ae6", r: 10.4},
    {name: "bacteroides", pts: bacteroidesPts, color: "#14f01e", r: 8.6},
    {name: "flavobacterium", pts: flavobacteriumPts, color: "#ffee00", r: 8.6},
    {name: "bifidobacterium", pts: bifidobacteriumPts, color: "#ff33f0", r: 6.8}
  ]
});

/* ---------- Panel C ---------- */
const generaColors = {W: "#fff", B: "#0000e6", R: "#ff1400", Y: "#ffff40", G: "#10ff50", C: "#66ccff"};
const environmentColors = {G: "#00a000", M: "#ff80f0", A: "#aed4ff", S: "#0078d4", F: "#8a00a0", O: "#fff"};
const fillABC = "#f000f0", fillMFS = "#3333cc", fillPTS = "#40e0d0", fillSUS = "#66cc00", fillMultiple = "#fff";
const frameC = {L: 92.7, R: 1763, T: 995.5, B: 1454};

const stripTop = group(panelC, "genera-strip");
generaStrip.forEach((k, i) => {
  rect(stripTop, "genera-cell-" + genomeLabels[i], xC(i) - 5.6, 956.4, 11.2, 27.6, generaColors[k], "#666", 1.3);
});
const stripBottom = group(panelC, "environment-strip");
environmentStrip.forEach((k, i) => {
  rect(stripBottom, "environment-cell-" + genomeLabels[i], xC(i) - 5.6, 1547, 11.2, 27.6, environmentColors[k], "#666", 1.3);
});

rect(panelC, "plot-background-c", frameC.L, frameC.T, frameC.R - frameC.L, frameC.B - frameC.T, "#fff");
const gridC = group(panelC, "grid-c");
minorC.forEach(v => {
  line(gridC, "grid-minor-y-" + v, frameC.L, yC(v), frameC.R, yC(v), "#f2f2f2", 1.4);
});
ticksC.forEach(v => {
  line(gridC, "grid-major-y-" + v, frameC.L, yC(v), frameC.R, yC(v), "#ebebeb", 2);
});
genomeLabels.forEach((g, i) => {
  line(gridC, "grid-x-" + g, xC(i), frameC.T, xC(i), frameC.B, "#ebebeb", 3);
});

const barsC = group(panelC, "stacked-bars");
function segment(parent, name, i, from, to, fill) {
  if (to - from <= 0) return;
  rect(parent, name, xC(i) - 5.6, yC(to), 11.2, yC(from) - yC(to), fill, "#000", 1.4);
}
genomeLabels.forEach((g, i) => {
  const bar = group(barsC, "bar-genome-" + g);
  segment(bar, "segment-multiple-base", i, 0, baseTop[i], fillMultiple);
  if (lowKind[i] === "P") segment(bar, "segment-pts", i, baseTop[i], lowTop[i], fillPTS);
  if (lowKind[i] === "S") segment(bar, "segment-sus", i, baseTop[i], lowTop[i], fillSUS);
  segment(bar, "segment-multiple-lower", i, lowTop[i], mfsBase[i], fillMultiple);
  segment(bar, "segment-mfs", i, mfsBase[i], mfsTop[i], fillMFS);
  segment(bar, "segment-multiple-upper", i, mfsTop[i], abcBase[i], fillMultiple);
  segment(bar, "segment-abc", i, abcBase[i], totalTop[i], fillABC);
});

rect(panelC, "plot-frame-c", frameC.L, frameC.T, frameC.R - frameC.L, frameC.B - frameC.T, "none", "#1a1a1a", 1.8);

const axesC = group(panelC, "axes-c");
ticksC.forEach(v => {
  line(axesC, "y-tick-" + v, frameC.L - 5, yC(v), frameC.L, yC(v), "#333", 1.6);
  label(axesC, "y-tick-label-" + v, 82, yC(v) + 6, String(v), "end", 22.5, "#1a1a1a");
});
genomeLabels.forEach((g, i) => {
  const odd = i % 2 === 1;
  line(axesC, "x-tick-" + g, xC(i), frameC.B, xC(i), odd ? frameC.B + 8 : 1495, "#111", 1.5);
  label(axesC, "x-tick-label-" + g, xC(i) + 7.3, odd ? 1482 : 1518, String(g), "middle", 20, "#222", true);
});

/* legend inside panel C */
const legC = group(panelC, "bar-legend");
rect(legC, "bar-legend-box", 109, 1006, 156, 212.8, "#fff", "#222", 1.6);
const legendKeys = ["ABC", "MFS", "PTS", "SUS", "Multiple"];
const legendFills = [fillABC, fillMFS, fillPTS, fillSUS, fillMultiple];
legendKeys.forEach((k, i) => {
  const top = 1017.5 + i * 39.2;
  rect(legC, "bar-legend-swatch-" + k.toLowerCase(), 120.7, top, 37, 35.5, legendFills[i], "#1a1a1a", 1.6);
  label(legC, "bar-legend-label-" + k.toLowerCase(), 165, top + 26, k, "start", 23.5, "#111");
});
</script>
</body>
</html>
